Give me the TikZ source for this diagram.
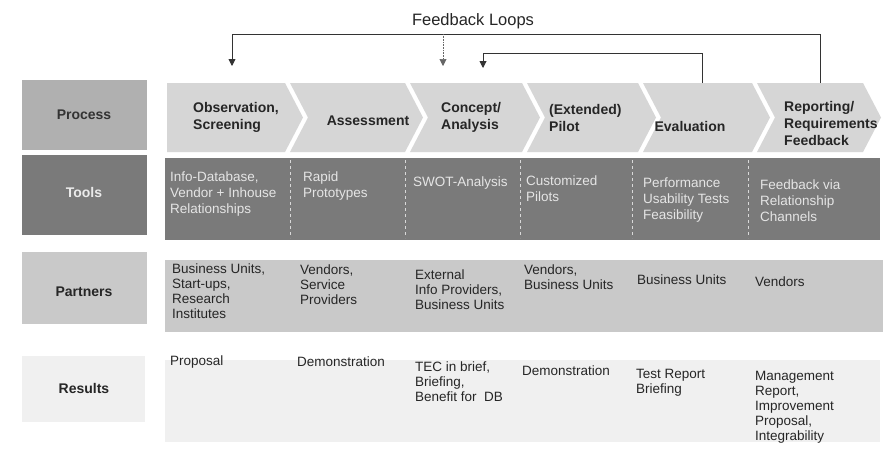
\documentclass[tikz,border=0pt]{standalone}
\usepackage{fontspec}
\setmainfont{Liberation Sans}
\usetikzlibrary{arrows.meta}
\definecolor{procgray}{HTML}{B0B0B0}
\definecolor{chevgray}{HTML}{D6D6D6}
\definecolor{toolgray}{HTML}{7A7A7A}
\definecolor{partgray}{HTML}{C9C9C9}
\definecolor{resgray}{HTML}{F0F0F0}
\begin{document}
\begin{tikzpicture}[x=1pt,y=-1pt,
  rowlbl/.style={inner sep=0pt, font=\fontsize{14}{16}\selectfont\bfseries},
  ptext/.style={font=\fontsize{14}{17}\selectfont\bfseries, align=left, anchor=west, inner sep=0pt, text=black!85},
  ttext/.style={font=\fontsize{13.5}{16}\selectfont, align=left, anchor=north west, inner sep=0pt, text=white!90!black},
  ctext/.style={font=\fontsize{13.5}{15}\selectfont, align=left, anchor=north west, inner sep=0pt, text=black!85},
  fb/.style={draw=black!80, line width=0.9pt},
  fbarrow/.style={fb, -{Triangle[length=7pt,width=7pt]}},
  sep/.style={draw=white!85!black, dashed, line width=0.8pt},
]
\useasboundingbox (0,0) rectangle (883,448);
\fill[white] (0,0) rectangle (883,448);

% title
\node[font=\fontsize{16.5}{19}\selectfont, text=black!85] (title) at (473,21) {Feedback Loops};

% row label boxes
\fill[procgray] (22,80) rectangle (147,150);
\node[rowlbl, text=black!80] (procL) at (84,115) {Process};
\fill[toolgray] (22,155) rectangle (147,235);
\node[rowlbl, text=white!92!black] (toolL) at (84,192) {Tools};
\fill[partgray] (22,252) rectangle (147,324);
\node[rowlbl, text=black!85] (partL) at (84,292) {Partners};
\fill[resgray] (22,356) rectangle (145,422);
\node[rowlbl, text=black!85] (resL) at (84,388) {Results};

% chevrons
\def\ct{83}\def\cb{152}\def\cm{117.5}
\fill[chevgray] (167,\ct) -- (285,\ct) -- (303,\cm) -- (285,\cb) -- (167,\cb) -- cycle;
\fill[chevgray] (290,\ct) -- (405,\ct) -- (423,\cm) -- (405,\cb) -- (290,\cb) -- (308,\cm) -- cycle;
\fill[chevgray] (410,\ct) -- (522,\ct) -- (540,\cm) -- (522,\cb) -- (410,\cb) -- (428,\cm) -- cycle;
\fill[chevgray] (527,\ct) -- (638,\ct) -- (656,\cm) -- (638,\cb) -- (527,\cb) -- (545,\cm) -- cycle;
\fill[chevgray] (643,\ct) -- (752,\ct) -- (770,\cm) -- (752,\cb) -- (643,\cb) -- (661,\cm) -- cycle;
\fill[chevgray] (757,\ct) -- (863,\ct) -- (881,\cm) -- (863,\cb) -- (757,\cb) -- (775,\cm) -- cycle;

\node[ptext] (p1) at (193,117) {Observation,\\Screening};
\node[ptext, anchor=center] (p2) at (368,121) {Assessment};
\node[ptext] (p3) at (441,117) {Concept/\\Analysis};
\node[ptext] (p4) at (549,118) {(Extended)\\Pilot};
\node[ptext, anchor=center] (p5) at (690,126) {Evaluation};
\node[ptext] (p6) at (784,123) {Reporting/\\Requirements\\Feedback};

% feedback loops
\coordinate (fbL) at (232,34);
\coordinate (fbLend) at (232,66);
\coordinate (fbM) at (443,34);
\coordinate (fbMend) at (443,66);
\coordinate (fbR) at (820,34);
\coordinate (fbRend) at (820,\ct);
\coordinate (ilL) at (483,53);
\coordinate (ilLend) at (483,68);
\coordinate (ilR) at (702,53);
\coordinate (ilRend) at (702,\ct);
\draw[fb] (fbRend) -- (fbR) -- (fbL);
\draw[fbarrow] (fbL) -- (fbLend);
\draw[fbarrow, draw=black!60, line width=0.6pt, densely dotted] (fbM) -- (fbMend);
\draw[fb] (ilRend) -- (ilR) -- (ilL);
\draw[fbarrow] (ilL) -- (ilLend);

% tools band
\fill[toolgray] (165,158) rectangle (880,240);
\foreach \x in {290,405,520,632,748} \draw[sep] (\x,160) -- (\x,238);
\node[ttext] (t1) at (170,172) {Info-Database,\\Vendor + Inhouse\\Relationships};
\node[ttext] (t2) at (303,172) {Rapid\\Prototypes};
\node[ttext] (t3) at (413,177) {SWOT-Analysis};
\node[ttext] (t4) at (526,176) {Customized\\Pilots};
\node[ttext] (t5) at (643,178) {Performance\\Usability Tests\\Feasibility};
\node[ttext] (t6) at (760,180) {Feedback via\\Relationship\\Channels};

% partners band
\fill[partgray] (165,260) rectangle (883,332);
\node[ctext] (q1) at (172,264) {Business Units,\\Start-ups,\\Research\\Institutes};
\node[ctext] (q2) at (300,265) {Vendors,\\Service\\Providers};
\node[ctext] (q3) at (415,270) {External\\Info Providers,\\Business Units};
\node[ctext] (q4) at (524,265) {Vendors,\\Business Units};
\node[ctext] (q5) at (637,275) {Business Units};
\node[ctext] (q6) at (755,277) {Vendors};

% results band
\fill[resgray] (165,360) rectangle (880,442);
\node[ctext] (r1) at (170,356) {Proposal};
\node[ctext] (r2) at (297,357) {Demonstration};
\node[ctext] (r3) at (415,362) {TEC in brief,\\Briefing,\\Benefit for\ \ DB};
\node[ctext] (r4) at (522,366) {Demonstration};
\node[ctext] (r5) at (636,369) {Test Report\\Briefing};
\node[ctext] (r6) at (755,371) {Management\\Report,\\Improvement\\Proposal,\\Integrability};
\end{tikzpicture}
\end{document}
